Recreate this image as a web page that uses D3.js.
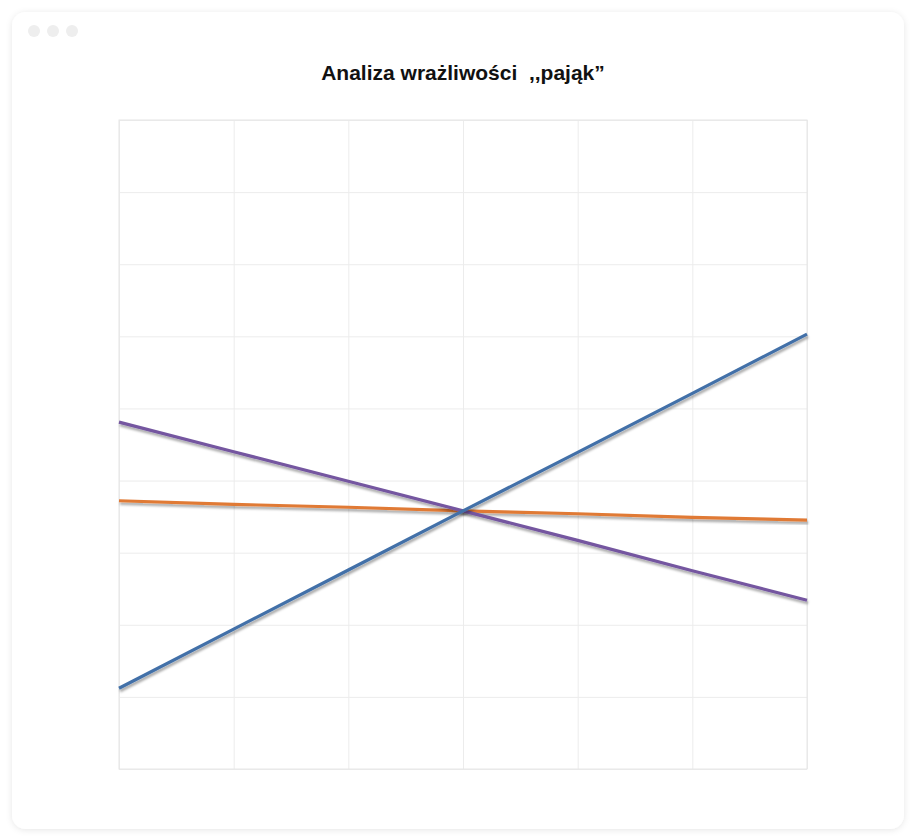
<!DOCTYPE html>
<html><head><meta charset="utf-8">
<script src="https://cdn.jsdelivr.net/npm/d3@7"></script>
<style>
html,body{margin:0;padding:0;background:#fff;}
svg{display:block;}
</style></head>
<body>
<svg id="c" width="920" height="839"></svg>
<script>
const categories = ["-30%","-20%","-10%","0%","10%","20%","30%"];
const seriesBlue   = [11.2, 19.4, 27.6, 35.8, 43.9, 52.1, 60.3];
const seriesPurple = [48.1, 44.0, 39.9, 35.8, 31.7, 27.5, 23.4];
const seriesOrange = [37.2, 36.7, 36.3, 35.8, 35.4, 34.9, 34.5];
const yTicks = [0,10,20,30,40,50,60,70,80,90];
const title = "Analiza wrażliwości  ,,pająk”";

const svg = d3.select("#c");
const defs = svg.append("defs");
const cf = defs.append("filter").attr("id","card").attr("x","-5%").attr("y","-5%").attr("width","110%").attr("height","110%");
cf.append("feDropShadow").attr("dx",0).attr("dy",1).attr("stdDeviation",3).attr("flood-color","#000").attr("flood-opacity",0.10);
const lf = defs.append("filter").attr("id","ls").attr("x","-5%").attr("y","-20%").attr("width","110%").attr("height","140%");
lf.append("feDropShadow").attr("dx",1).attr("dy",2.5).attr("stdDeviation",1).attr("flood-color","#000").attr("flood-opacity",0.35);

svg.append("rect").attr("x",12).attr("y",12).attr("width",892).attr("height",817).attr("rx",14)
  .attr("fill","#fff").attr("filter","url(#card)");
[34,53,72].forEach(cx=>svg.append("circle").attr("cx",cx).attr("cy",31).attr("r",6).attr("fill","#eeeeee"));

svg.append("text").attr("x",463).attr("y",80).attr("text-anchor","middle")
  .style("white-space","pre").attr("xml:space","preserve")
  .attr("font-family","'Liberation Sans', Arial, sans-serif").attr("font-weight",700).attr("font-size",21)
  .attr("fill","#111").text(title);

const L=119,R=807,T=120,B=769;
const x = d3.scalePoint().domain(categories).range([L,R]);
const y = d3.scaleLinear().domain([0,90]).range([B,T]);

const g = svg.append("g");
g.append("g").attr("transform",`translate(0,${B})`)
  .call(d3.axisBottom(x).tickSize(-(B-T)).tickFormat(""))
  .call(a=>a.select(".domain").remove())
  .selectAll("line").attr("stroke","#ececec");
g.append("g").attr("transform",`translate(${L},0)`)
  .call(d3.axisLeft(y).tickValues(yTicks).tickSize(-(R-L)).tickFormat(""))
  .call(a=>a.select(".domain").remove())
  .selectAll("line").attr("stroke","#ececec");
g.append("rect").attr("x",L).attr("y",T).attr("width",R-L).attr("height",B-T).attr("fill","none").attr("stroke","#e6e6e6");

const line = d3.line().x((d,i)=>x(categories[i])).y(d=>y(d));
const series = [
  {v:seriesOrange,c:"#e07a35"},
  {v:seriesPurple,c:"#7457a0"},
  {v:seriesBlue,c:"#4270a8"}
];
series.forEach(s=>{
  svg.append("path").datum(s.v).attr("d",line).attr("fill","none").attr("stroke",s.c)
    .attr("stroke-width",3.2).attr("filter","url(#ls)");
});
</script>
</body></html>
